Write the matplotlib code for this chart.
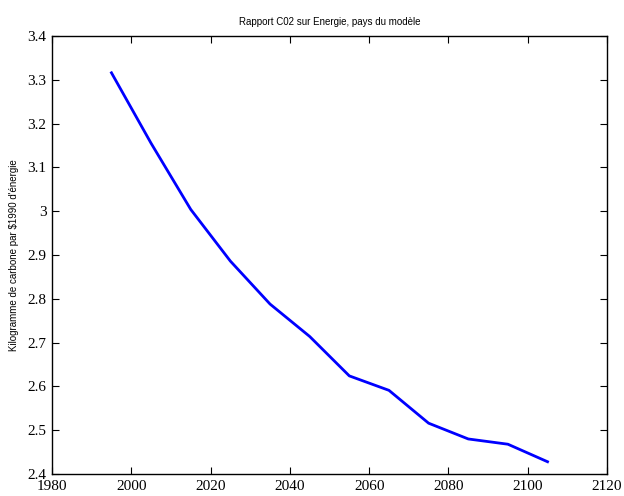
import matplotlib
matplotlib.use("Agg")
import matplotlib.pyplot as plt

# données
annees = [1995, 2005, 2015, 2025, 2035, 2045, 2055, 2065, 2075, 2085, 2095, 2105]
ratio = [3.316, 3.155, 3.004, 2.886, 2.788, 2.714, 2.624, 2.591, 2.516, 2.480, 2.468, 2.428]

xticks = [1980, 2000, 2020, 2040, 2060, 2080, 2100, 2120]
yticks = [2.4, 2.5, 2.6, 2.7, 2.8, 2.9, 3.0, 3.1, 3.2, 3.3, 3.4]
ytick_labels = ["2.4", "2.5", "2.6", "2.7", "2.8", "2.9", "3", "3.1", "3.2", "3.3", "3.4"]

fig = plt.figure(figsize=(6.24, 4.96), dpi=100)
ax = fig.add_axes([52 / 624, 1 - 474 / 496, 555 / 624, 438 / 496])

ax.plot(annees, ratio, color="#0000ff", linewidth=2)

ax.set_xlim(1980, 2120)
ax.set_ylim(2.4, 3.4)
ax.set_xticks(xticks)
ax.set_yticks(yticks)
ax.set_yticklabels(ytick_labels)

ax.tick_params(direction="in", top=True, right=True, length=5, width=0.8,
               labelsize=11, pad=4)
for lab in ax.get_xticklabels() + ax.get_yticklabels():
    lab.set_family("Liberation Serif")
for s in ax.spines.values():
    s.set_linewidth(1)

ax.set_title("Rapport C02 sur Energie, pays du modèle", fontsize=7,
             family="Liberation Sans", pad=8)
ax.set_ylabel("Kilogramme de carbone par $1990 d'énergie", fontsize=7,
              family="Liberation Sans", labelpad=6)

fig.savefig("out.png", dpi=100)
